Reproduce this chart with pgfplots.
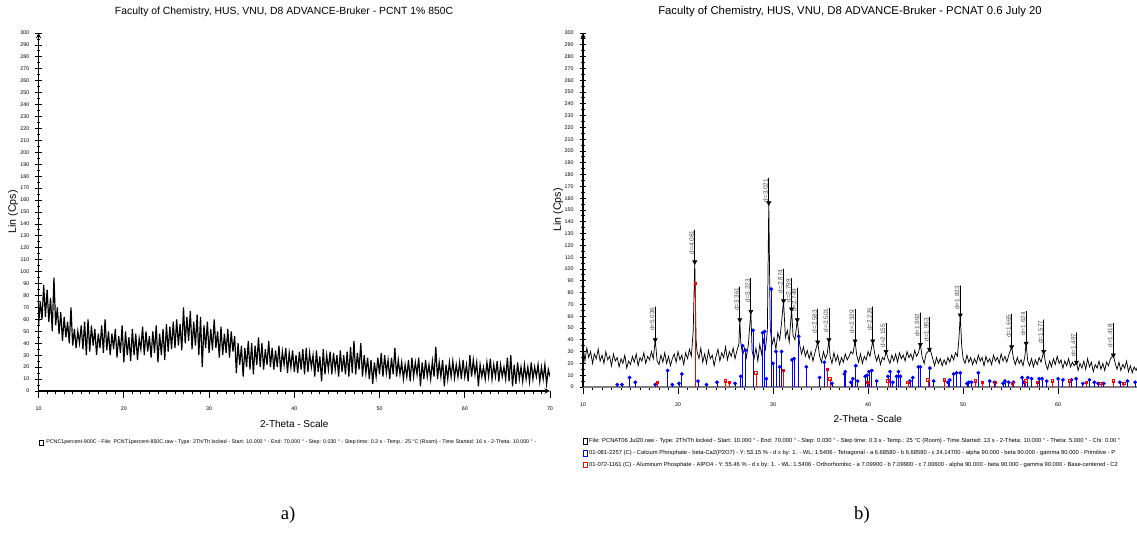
\documentclass[border=0pt]{standalone}
\usepackage{pgfplots}
\pgfplotsset{compat=1.18}
\usepackage{pgfplotstable}
\usepackage{fontspec}
\setmainfont{Liberation Sans}
\newfontfamily\seriffont{Liberation Serif}

\pgfplotstableread{
x y e top lab
17.60 40 28 68 d=5.036
21.76 106 27 133 d=4.081
26.50 57 28 85 d=3.361
27.66 64 28 92 d=3.223
29.55 156 21 177 d=3.021
31.10 73 27 100 d=2.874
31.95 66 26 92 d=2.799
32.55 57 27 84 d=2.749
34.70 38 28 66 d=2.583
35.88 40 27 67 d=2.501
38.63 39 27 66 d=2.329
40.49 39 29 68 d=2.226
41.89 30 24 54 d=2.155
45.50 36 27 63 d=1.992
46.46 32 27 59 d=1.953
49.70 61 25 86 d=1.833
55.11 34 28 62 d=1.665
56.63 37 27 64 d=1.624
58.48 30 27 57 d=1.577
61.93 21 25 46 d=1.497
65.81 27 27 54 d=1.418
}\peaksb

\pgfplotsset{
  xrd/.style={
    scale only axis,
    axis lines=left,
    ymin=0, ymax=300,
    ytick={0,10,...,300},
    minor y tick num=1,
    minor x tick num=9,
    xtick align=outside,
    ytick align=center,
    major tick length=5pt,
    minor tick length=2.5pt,
    tick style={black, line width=0.6pt},
    ticklabel style={font=\fontsize{4}{4}\selectfont},
    /pgf/number format/assume math mode=true,
    xticklabel style={yshift=-3pt},
    yticklabel style={xshift=-1pt},
    axis line style={line width=0.8pt},
    title style={anchor=center, yshift=10pt},
    xlabel style={font=\fontsize{7.5}{7.5}\selectfont, anchor=center, yshift=-25pt},
    ylabel style={font=\fontsize{8}{8}\selectfont, anchor=center},
    legend cell align=left,
  }
}

\begin{document}
\begin{tikzpicture}
\useasboundingbox (0,0) rectangle (852.75pt,408.75pt);
\clip (0,0) rectangle (852.75pt,408.75pt);

% ---------------- panel a ----------------
\begin{axis}[xrd,
  at={(28.95pt,115.5pt)}, anchor=south west,
  width=383.55pt, height=268.5pt,
  xmin=10, xmax=70, xtick={10,20,...,70},
  title={Faculty of Chemistry, HUS, VNU, D8 ADVANCE-Bruker - PCNT 1\% 850C},
  title style={at={(axis description cs:0.48,1)}, font=\fontsize{7.8}{7.8}\selectfont},
  xlabel={2-Theta - Scale},
  xlabel style={at={(axis description cs:0.5,0)}},
  ylabel={Lin (Cps)},
  ylabel style={at={(axis description cs:-0.05,0.5)}},
  legend style={at={(axis description cs:0,0)}, anchor=west, yshift=-39pt,
    draw=none, fill=none, inner sep=0pt, font=\fontsize{4}{4}\selectfont},
]
\addplot[black, line width=0.9pt,
  legend image code/.code={\draw[black,line width=0.6pt] (0pt,-2pt) rectangle (3pt,2pt);}]
coordinates {
(10.0,55)(10.2,75)(10.4,60)(10.6,89)(10.8,62)(11.0,85)(11.2,58)(11.4,78)(11.6,50)(11.8,95)
(12.0,55)(12.2,70)(12.4,48)(12.6,66)(12.8,42)(13.0,62)(13.2,45)(13.4,58)(13.6,40)(13.8,70)
(14.0,38)(14.2,52)(14.4,36)(14.6,50)(14.8,40)(15.0,55)(15.2,35)(15.4,58)(15.6,30)(15.8,60)
(16.0,33)(16.2,55)(16.4,38)(16.6,52)(16.8,30)(17.0,48)(17.2,36)(17.4,55)(17.6,32)(17.8,60)
(18.0,34)(18.2,50)(18.4,30)(18.6,48)(18.8,35)(19.0,52)(19.2,28)(19.4,46)(19.6,32)(19.8,55)
(20.0,24)(20.2,50)(20.4,30)(20.6,45)(20.8,25)(21.0,52)(21.2,30)(21.4,48)(21.6,26)(21.8,44)
(22.0,35)(22.2,54)(22.4,30)(22.6,50)(22.8,33)(23.0,46)(23.2,28)(23.4,50)(23.6,32)(23.8,55)
(24.0,24)(24.2,48)(24.4,30)(24.6,52)(24.8,26)(25.0,56)(25.2,33)(25.4,54)(25.6,35)(25.8,58)
(26.0,36)(26.2,60)(26.4,38)(26.6,56)(26.8,34)(27.0,70)(27.2,40)(27.4,62)(27.6,42)(27.8,67)
(28.0,35)(28.2,58)(28.4,38)(28.6,64)(28.8,30)(29.0,62)(29.2,20)(29.4,55)(29.6,36)(29.8,58)
(30.0,32)(30.2,52)(30.4,34)(30.6,60)(30.8,36)(31.0,50)(31.2,28)(31.4,54)(31.6,30)(31.8,48)
(32.0,32)(32.2,52)(32.4,28)(32.6,50)(32.8,33)(33.0,46)(33.2,15)(33.4,40)(33.6,22)(33.8,38)
(34.0,12)(34.2,36)(34.4,20)(34.6,42)(34.8,18)(35.0,40)(35.2,14)(35.4,38)(35.6,22)(35.8,45)
(36.0,20)(36.2,40)(36.4,18)(36.6,35)(36.8,22)(37.0,42)(37.2,20)(37.4,36)(37.6,18)(37.8,34)
(38.0,20)(38.2,38)(38.4,16)(38.6,33)(38.8,22)(39.0,36)(39.2,15)(39.4,32)(39.6,20)(39.8,34)
(40.0,16)(40.2,30)(40.4,15)(40.6,33)(40.8,18)(41.0,35)(41.2,14)(41.4,36)(41.6,16)(41.8,32)
(42.0,20)(42.2,30)(42.4,12)(42.6,34)(42.8,16)(43.0,29)(43.2,8)(43.4,35)(43.6,14)(43.8,30)
(44.0,18)(44.2,33)(44.4,14)(44.6,32)(44.8,18)(45.0,30)(45.2,12)(45.4,34)(45.6,16)(45.8,30)
(46.0,14)(46.2,33)(46.4,12)(46.6,37)(46.8,15)(47.0,42)(47.2,14)(47.4,32)(47.6,18)(47.8,40)
(48.0,12)(48.2,30)(48.4,15)(48.6,28)(48.8,10)(49.0,26)(49.2,6)(49.4,24)(49.6,12)(49.8,28)
(50.0,14)(50.2,32)(50.4,12)(50.6,30)(50.8,15)(51.0,26)(51.2,10)(51.4,28)(51.6,14)(51.8,36)
(52.0,12)(52.2,26)(52.4,14)(52.6,24)(52.8,10)(53.0,22)(53.2,12)(53.4,26)(53.6,8)(53.8,28)
(54.0,12)(54.2,24)(54.4,14)(54.6,28)(54.8,4)(55.0,24)(55.2,10)(55.4,26)(55.6,12)(55.8,22)
(56.0,10)(56.2,25)(56.4,12)(56.6,37)(56.8,10)(57.0,24)(57.2,12)(57.4,26)(57.6,4)(57.8,22)
(58.0,10)(58.2,24)(58.4,12)(58.6,25)(58.8,11)(59.0,22)(59.2,12)(59.4,24)(59.6,10)(59.8,26)
(60.0,12)(60.2,22)(60.4,8)(60.6,30)(60.8,12)(61.0,26)(61.2,14)(61.4,24)(61.6,4)(61.8,22)
(62.0,12)(62.2,20)(62.4,10)(62.6,24)(62.8,12)(63.0,27)(63.2,10)(63.4,22)(63.6,12)(63.8,25)
(64.0,8)(64.2,22)(64.4,12)(64.6,20)(64.8,10)(65.0,28)(65.2,8)(65.4,30)(65.6,4)(65.8,22)
(66.0,6)(66.2,24)(66.4,10)(66.6,20)(66.8,8)(67.0,22)(67.2,10)(67.4,20)(67.6,8)(67.8,24)
(68.0,10)(68.2,20)(68.4,12)(68.6,22)(68.8,8)(69.0,20)(69.2,10)(69.4,22)(69.6,6)(69.8,18)
(70.0,12)
};
\addlegendentry{PCNC1percent-900C - File: PCNT1percent-850C.raw - Type: 2Th/Th locked - Start: 10.000 ° - End: 70.000 ° - Step: 0.030 ° - Step time: 0.3 s - Temp.: 25 °C (Room) - Time Started: 16 s - 2-Theta: 10.000 ° -}
\end{axis}

% ---------------- panel b ----------------
\begin{axis}[xrd,
  at={(437.25pt,118.5pt)}, anchor=south west,
  width=415.5pt, height=265.5pt,
  xmin=10, xmax=68.3, xtick={10,20,...,60},
  x axis line style={gray, -},
  title={Faculty of Chemistry, HUS, VNU, D8 ADVANCE-Bruker - PCNAT 0.6 July 20},
  title style={at={(axis description cs:0.482,1)}, font=\fontsize{8.5}{8.5}\selectfont},
  xlabel={2-Theta - Scale},
  xlabel style={at={(axis description cs:0.514,0)}, yshift=0.75pt},
  ylabel={Lin (Cps)},
  ylabel style={at={(axis description cs:-0.045,0.5)}},
  legend style={at={(axis description cs:0,0)}, anchor=north west, yshift=-37.5pt,
    draw=none, fill=none, inner sep=0pt, row sep=2.6pt,
    nodes={inner sep=0.8pt}, font=\fontsize{4.35}{4.35}\selectfont},
]
\addplot[black, line width=0.55pt,
  legend image code/.code={\draw[black,line width=0.6pt] (0pt,-2pt) rectangle (3pt,2pt);}]
coordinates {
(10.0,35)(10.2,22)(10.4,33)(10.6,25)(10.8,30)(11.0,20)(11.2,28)(11.4,24)(11.6,32)(11.8,22)
(12.0,27)(12.2,20)(12.4,30)(12.6,23)(12.8,26)(13.0,18)(13.2,28)(13.4,22)(13.6,25)(13.8,17)
(14.0,24)(14.2,20)(14.4,27)(14.6,16)(14.8,22)(15.0,19)(15.2,26)(15.4,21)(15.6,28)(15.8,18)
(16.0,25)(16.2,22)(16.4,29)(16.6,20)(16.8,26)(17.0,23)(17.2,30)(17.4,24)(17.6,40)(17.8,22)
(18.0,19)(18.2,27)(18.4,21)(18.6,29)(18.8,20)(19.0,26)(19.2,18)(19.4,24)(19.6,28)(19.8,21)
(20.0,30)(20.2,23)(20.4,27)(20.6,19)(20.8,29)(21.0,24)(21.2,32)(21.4,26)(21.6,48)(21.76,106)
(21.9,40)(22.0,30)(22.2,24)(22.4,33)(22.6,21)(22.8,28)(23.0,20)(23.2,31)(23.4,24)(23.6,27)
(23.8,18)(24.0,26)(24.2,32)(24.4,22)(24.6,29)(24.8,25)(25.0,34)(25.2,23)(25.4,30)(25.6,26)
(25.8,33)(26.0,24)(26.2,31)(26.4,36)(26.50,57)(26.6,38)(26.8,27)(27.0,33)(27.2,25)(27.4,36)
(27.66,64)(27.8,30)(28.0,24)(28.2,33)(28.4,22)(28.6,36)(28.8,28)(29.0,40)(29.2,32)(29.4,48)
(29.55,156)(29.7,50)(29.9,36)(30.1,42)(30.3,32)(30.5,46)(30.7,40)(30.9,55)(31.10,73)(31.3,42)
(31.5,48)(31.7,38)(31.95,66)(32.1,44)(32.3,40)(32.55,57)(32.8,36)(33.0,28)(33.2,34)(33.4,26)
(33.6,31)(33.8,24)(34.0,30)(34.2,22)(34.4,29)(34.70,38)(34.9,26)(35.1,21)(35.3,30)(35.5,24)
(35.7,28)(35.88,40)(36.0,26)(36.2,20)(36.4,29)(36.6,22)(36.8,27)(37.0,19)(37.2,25)(37.4,21)
(37.6,28)(37.8,23)(38.0,26)(38.2,30)(38.4,28)(38.63,39)(38.8,27)(39.0,21)(39.2,28)(39.4,20)
(39.6,26)(39.8,23)(40.0,30)(40.2,26)(40.49,39)(40.7,28)(40.9,22)(41.1,27)(41.3,19)(41.5,25)
(41.7,23)(41.89,30)(42.1,24)(42.3,20)(42.5,27)(42.7,22)(42.9,28)(43.1,21)(43.3,29)(43.5,24)
(43.7,27)(43.9,22)(44.1,30)(44.3,25)(44.5,28)(44.7,23)(44.9,31)(45.1,26)(45.3,29)(45.50,36)
(45.7,25)(45.9,20)(46.1,28)(46.3,30)(46.46,32)(46.6,30)(46.8,24)(47.0,18)(47.2,25)(47.4,20)
(47.6,24)(47.8,18)(48.0,23)(48.2,19)(48.4,25)(48.6,21)(48.8,27)(49.0,23)(49.2,29)(49.4,26)
(49.55,40)(49.70,61)(49.85,35)(50.0,24)(50.2,20)(50.4,27)(50.6,21)(50.8,25)(51.0,19)(51.2,24)
(51.4,20)(51.6,27)(51.8,22)(52.0,25)(52.2,18)(52.4,26)(52.6,21)(52.8,24)(53.0,19)(53.2,27)
(53.4,22)(53.6,25)(53.8,20)(54.0,28)(54.2,22)(54.4,26)(54.6,21)(54.8,27)(55.11,34)(55.3,24)
(55.5,19)(55.7,25)(55.9,20)(56.1,23)(56.3,18)(56.5,26)(56.63,37)(56.8,22)(57.0,18)(57.2,24)
(57.4,17)(57.6,23)(57.8,19)(58.0,25)(58.2,21)(58.48,30)(58.7,19)(58.9,15)(59.1,22)(59.3,17)
(59.5,24)(59.7,19)(59.9,26)(60.1,20)(60.3,23)(60.5,16)(60.7,22)(60.9,18)(61.1,24)(61.3,17)
(61.5,21)(61.7,18)(61.93,21)(62.1,14)(62.3,20)(62.5,16)(62.7,22)(62.9,15)(63.1,24)(63.3,17)
(63.5,21)(63.7,13)(63.9,19)(64.1,16)(64.3,22)(64.5,15)(64.7,20)(64.9,14)(65.1,21)(65.3,18)
(65.5,24)(65.81,27)(66.0,20)(66.2,15)(66.4,21)(66.6,14)(66.8,19)(67.0,16)(67.2,22)(67.4,13)
(67.6,18)(67.8,12)(68.0,17)(68.2,14)(68.4,18)
};
\addlegendentry{File: PCNAT06 Jul20.raw - Type: 2Th/Th locked - Start: 10.000 ° - End: 70.000 ° - Step: 0.030 ° - Step time: 0.3 s - Temp.: 25 °C (Room) - Time Started: 13 s - 2-Theta: 10.000 ° - Theta: 5.000 ° - Chi: 0.00 °}

\addplot[ycomb, blue, line width=0.6pt, mark=*, mark size=1.1pt, mark options={fill=blue},
  legend image code/.code={\draw[blue,line width=0.6pt] (0pt,-2pt) rectangle (3pt,2pt);}]
coordinates {
(13.6,2)(14.1,2)(14.9,8)(15.5,4)(17.6,2)(18.9,14)(19.4,2)(20.1,3)(20.4,11)(22.1,5)
(23.0,2)(24.1,4)(26.0,3)(26.6,9)(26.8,35)(27.1,31)(27.9,48)(28.9,46)(29.1,47)(29.3,7)
(29.8,83)(30.0,20)(30.3,30)(30.7,17)(30.9,30)(32.0,23)(32.2,24)(32.7,43)(33.5,17)(34.9,8)
(35.4,21)(36.2,3)(37.5,11)(37.6,13)(38.2,4)(38.4,7)(38.7,18)(38.9,5)(39.7,9)(39.9,10)
(40.1,13)(40.4,14)(40.9,5)(42.1,9)(42.3,13)(42.6,4)(43.0,9)(43.2,13)(43.4,9)(44.4,5)
(44.7,8)(45.3,17)(45.5,17)(46.5,16)(46.9,5)(48.4,4)(48.6,6)(49.0,11)(49.3,12)(49.7,12)
(50.4,3)(50.6,4)(50.9,4)(51.6,12)(52.8,5)(53.3,4)(54.2,3)(54.4,5)(54.8,4)(55.3,4)
(56.2,8)(56.4,4)(56.8,8)(57.2,7)(58.0,7)(58.3,7)(58.8,5)(60.0,7)(60.5,6)(61.4,6)
(61.9,7)(62.6,3)(63.3,6)(63.8,4)(64.2,3)(64.8,3)(66.5,4)(67.3,5)(68.1,4)
};
\addlegendentry{01-081-2257 (C) - Calcium Phosphate - beta-Ca2(P2O7) - Y: 53.15 \% - d x by: 1. - WL: 1.5406 - Tetragonal - a 6.68580 - b 6.68580 - c 24.14700 - alpha 90.000 - beta 90.000 - gamma 90.000 - Primitive - P}

\addplot[ycomb, red, line width=0.6pt, mark=square, mark size=0.9pt,
  legend image code/.code={\draw[red,line width=0.6pt] (0pt,-2pt) rectangle (3pt,2pt);}]
coordinates {
(17.8,4)(21.8,88)(25.0,5)(25.4,4)(28.2,12)(31.1,14)(35.7,15)(36.0,7)(40.0,4)(42.1,5)
(44.2,4)(46.3,6)(48.0,6)(51.3,5)(52.0,4)(53.4,4)(55.2,3)(56.6,5)(57.8,4)(59.4,5)
(61.2,5)(63.0,4)(64.5,3)(65.8,5)(66.9,3)
};
\addlegendentry{01-072-1161 (C) - Aluminum Phosphate - AlPO4 - Y: 55.46 \% - d x by: 1. - WL: 1.5406 - Orthorhombic - a 7.09900 - b 7.09900 - c 7.00600 - alpha 90.000 - beta 90.000 - gamma 90.000 - Base-centered - C2}

% peak markers
\addplot[forget plot, draw=none, mark=none,
  error bars/.cd, y dir=plus, y explicit, error mark=none,
  error bar style={black, line width=0.5pt}]
  table[x=x, y=y, y error=e] {\peaksb};
\addplot[forget plot, only marks, mark=triangle*, mark size=1.8pt,
  mark options={rotate=180, fill=black, draw=black}]
  table[x=x, y=y] {\peaksb};
\addplot[forget plot, only marks, mark=*, mark size=0.01pt, mark options={draw=none, fill=none},
  point meta=explicit symbolic, nodes near coords,
  nodes near coords style={rotate=90, anchor=south east, inner sep=0.4pt,
    font=\fontsize{4.8}{4.8}\selectfont, text=black!70}]
  table[x=x, y=top, meta=lab] {\peaksb};
\end{axis}

\node[font=\seriffont\fontsize{14}{14}\selectfont] at (216pt,22.5pt) {a)};
\node[font=\seriffont\fontsize{14}{14}\selectfont] at (646.5pt,22.5pt) {b)};
\end{tikzpicture}
\end{document}
